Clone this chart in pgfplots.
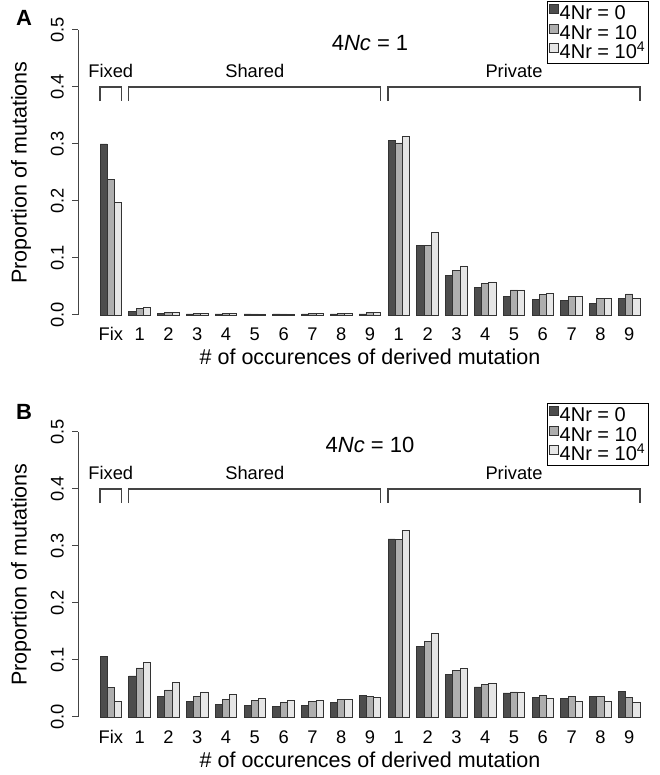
\documentclass[border=0pt]{standalone}
\usepackage{pgfplots}
\usepackage{pgfplotstable}
\pgfplotsset{compat=1.18}
\usepackage{fontspec}
\setmainfont{Liberation Sans}
\definecolor{gA}{HTML}{4D4D4D}
\definecolor{gB}{HTML}{AEAEAE}
\definecolor{gC}{HTML}{E6E6E6}
\definecolor{axg}{HTML}{444444}
\newcommand{\tf}{\fontsize{18.3}{22}\selectfont}
\newcommand{\labf}{\fontsize{21.5}{25}\selectfont}
\newcommand{\titf}{\fontsize{22}{26}\selectfont}
\newcommand{\lf}{\fontsize{20}{23}\selectfont}

\pgfplotstableread{
x a b c
2.5 0.300 0.238 0.197
6.5 0.007 0.011 0.013
10.5 0.003 0.005 0.005
14.5 0.002 0.003 0.003
18.5 0.002 0.003 0.003
22.5 0.002 0.002 0.002
26.5 0.002 0.002 0.002
30.5 0.002 0.003 0.003
34.5 0.002 0.003 0.003
38.5 0.002 0.004 0.004
42.5 0.306 0.302 0.314
46.5 0.1225 0.1225 0.145
50.5 0.0695 0.0777 0.086
54.5 0.048 0.055 0.058
58.5 0.032 0.044 0.044
62.5 0.028 0.036 0.038
66.5 0.025 0.033 0.033
70.5 0.021 0.029 0.029
74.5 0.029 0.037 0.029
}\dataA

\pgfplotstableread{
x a b c
2.5 0.106 0.052 0.028
6.5 0.072 0.086 0.096
10.5 0.0365 0.0475 0.060
14.5 0.027 0.0365 0.044
18.5 0.0214 0.031 0.039
22.5 0.0197 0.0296 0.033
26.5 0.0186 0.0255 0.0296
30.5 0.020 0.028 0.029
34.5 0.025 0.031 0.031
38.5 0.0383 0.0365 0.034
42.5 0.3125 0.311 0.327
46.5 0.124 0.132 0.1466
50.5 0.0748 0.081 0.0847
54.5 0.0527 0.0574 0.059
58.5 0.0423 0.044 0.043
62.5 0.0348 0.0377 0.033
66.5 0.0319 0.0354 0.0273
70.5 0.0354 0.0354 0.0273
74.5 0.0452 0.0348 0.026
}\dataB

\pgfplotsset{ybar legend/.style={legend image code/.code={\draw[##1] (0pt,0pt) rectangle (9pt,9pt);}}}

\pgfplotsset{panel/.style={
  scale only axis, width=583.2pt, height=307.8pt, anchor=south west,
  xmin=-2, xmax=79, ymin=-0.02, ymax=0.52,
  clip=false,
  axis line style={draw=none},
  ybar=0pt, bar width=1,
  every axis plot/.append style={draw=black!80, line width=0.7pt},
  ytick={0,0.1,0.2,0.3,0.4,0.5},
  yticklabels={0.0,0.1,0.2,0.3,0.4,0.5},
  ytick pos=left, tick align=outside, major tick length=6pt,
  ytick style={draw=axg, line width=1pt},
  yticklabel style={xshift=-8.5pt, rotate=90, anchor=south, inner sep=0pt, font=\tf},
  xtick={2.5,6.5,...,74.5},
  xticklabels={Fix,1,2,3,4,5,6,7,8,9,1,2,3,4,5,6,7,8,9},
  xtick style={draw=none},
  xticklabel style={anchor=base, inner sep=0pt, yshift=-8.6pt, font=\tf},
  legend style={at={(0.978,1.0556)}, anchor=north east, draw=black, line width=1pt,
     font=\lf, inner xsep=2pt, inner ysep=2.5pt,
     nodes={inner xsep=1pt, inner ysep=0pt, text height=14.6pt, text depth=2.5pt},
     row sep=1.5pt, column sep=0pt},
  legend cell align=left,
  /pgf/number format/assume math mode=true,
}}

\newcommand{\decor}[3]{%
 \draw[axg, line width=1pt] (axis cs:-2,0) -- (axis cs:-2,0.5);
 \draw[axg, line width=1.1pt] (axis cs:1,0.375) -- (axis cs:1,0.4) -- (axis cs:4,0.4) -- (axis cs:4,0.375);
 \draw[axg, line width=1.1pt] (axis cs:5,0.375) -- (axis cs:5,0.4) -- (axis cs:40,0.4) -- (axis cs:40,0.375);
 \draw[axg, line width=1.1pt] (axis cs:41,0.375) -- (axis cs:41,0.4) -- (axis cs:76,0.4) -- (axis cs:76,0.375);
 \node[font=\tf, text depth=0pt] at (axis cs:2.5,0.428) {Fixed};
 \node[font=\tf, text depth=0pt] at (axis cs:22.5,0.428) {Shared};
 \node[font=\tf, text depth=0pt] at (axis cs:58.5,0.428) {Private};
 \node[font=\titf, text depth=0pt] at (axis cs:38.5,0.477) {4\textit{Nc} = #1};
 \node[font=\labf, anchor=base] at ([yshift=-50pt]axis cs:38.5,0) {\# of occurences of derived mutation};
 \node[font=\labf, rotate=90] at ([xshift=-57.4pt]axis cs:-2,0.25) {Proportion of mutations};
 \node[font=\bfseries\fontsize{22}{26}\selectfont] at ([xshift=-54.4pt,yshift=#3]axis cs:-2,0) {#2};
}

\begin{document}
\begin{tikzpicture}
\useasboundingbox (0,0) rectangle (659pt,775pt);
\begin{axis}[panel, at={(78.4pt,448.6pt)}]
\addplot[fill=gA] table[x=x,y=a]{\dataA};
\addplot[fill=gB] table[x=x,y=b]{\dataA};
\addplot[fill=gC] table[x=x,y=c]{\dataA};
\legend{4Nr = 0, 4Nr = 10, 4Nr = 10\textsuperscript{4}}
\decor{1}{A}{297pt}
\end{axis}
\begin{axis}[panel, at={(78.4pt,46.6pt)}]
\addplot[fill=gA] table[x=x,y=a]{\dataB};
\addplot[fill=gB] table[x=x,y=b]{\dataB};
\addplot[fill=gC] table[x=x,y=c]{\dataB};
\legend{4Nr = 0, 4Nr = 10, 4Nr = 10\textsuperscript{4}}
\decor{10}{B}{305pt}
\end{axis}
\end{tikzpicture}
\end{document}
